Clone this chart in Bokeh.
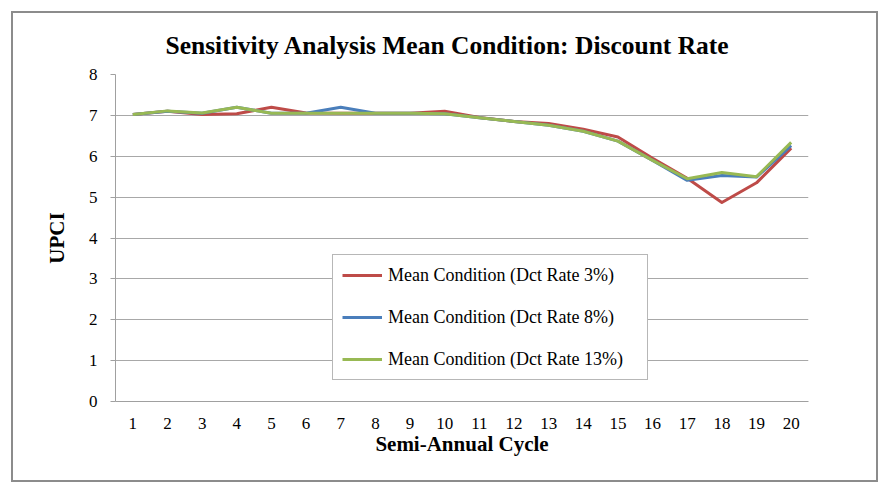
from bokeh.plotting import figure
from bokeh.models import Legend, LegendItem, FixedTicker, Range1d, ColumnDataSource
from bokeh.embed import file_html
from bokeh.resources import INLINE

cycles = list(range(1, 21))
tick_labels = [str(c) for c in cycles]
y_ticks = list(range(0, 9))

rate3 = [7.02, 7.10, 7.02, 7.04, 7.20, 7.06, 7.05, 7.05, 7.05, 7.10,
         6.95, 6.85, 6.80, 6.66, 6.47, 5.95, 5.46, 4.87, 5.35, 6.20]
rate8 = [7.02, 7.10, 7.05, 7.20, 7.05, 7.05, 7.20, 7.05, 7.05, 7.04,
         6.94, 6.85, 6.76, 6.61, 6.37, 5.90, 5.41, 5.53, 5.49, 6.26]
rate13 = [7.02, 7.11, 7.06, 7.20, 7.05, 7.05, 7.05, 7.05, 7.05, 7.04,
          6.94, 6.85, 6.76, 6.61, 6.37, 5.90, 5.45, 5.60, 5.50, 6.34]

series_names = ["Mean Condition (Dct Rate 3%)",
                "Mean Condition (Dct Rate 8%)",
                "Mean Condition (Dct Rate 13%)"]
series_colors = ["#be4b48", "#4a7ebb", "#98b954"]
chart_title = "Sensitivity Analysis Mean Condition: Discount Rate"

FONT = "Liberation Serif"

p = figure(width=867, height=471,
           x_range=Range1d(0.5, 20.5), y_range=Range1d(0, 8),
           output_backend="svg", toolbar_location=None,
           min_border_left=102, min_border_right=72,
           min_border_top=61, min_border_bottom=83,
           title=chart_title)
p.styles = {"border": "2px solid #8c8c8c", "margin-left": "11px", "margin-top": "11px"}

p.title.text_font = FONT
p.title.text_font_size = "25.5px"
p.title.text_font_style = "bold"
p.title.text_color = "black"
p.title.align = "left"
p.title.offset = 50
p.title.standoff = 29

p.outline_line_color = None
p.background_fill_color = "white"
p.border_fill_color = "white"
p.xgrid.visible = False
p.ygrid.grid_line_color = "#a8a8a8"
p.ygrid.grid_line_width = 1
p.ygrid.ticker = FixedTicker(ticks=y_ticks)

ya = p.yaxis[0]
ya.ticker = FixedTicker(ticks=y_ticks)
ya.axis_line_color = "#a0a0a0"
ya.major_tick_line_color = "#a0a0a0"
ya.major_tick_out = 5
ya.major_tick_in = 0
ya.minor_tick_line_color = None
ya.major_label_standoff = 13
ya.major_label_text_font = FONT
ya.major_label_text_font_size = "17px"
ya.major_label_text_color = "black"
ya.axis_label = "UPCI"
ya.axis_label_text_font = FONT
ya.axis_label_text_font_size = "21px"
ya.axis_label_text_font_style = "bold"
ya.axis_label_text_color = "black"
ya.axis_label_standoff = 17

xa = p.xaxis[0]
xa.ticker = FixedTicker(ticks=cycles)
xa.major_label_overrides = {c: t for c, t in zip(cycles, tick_labels)}
xa.axis_line_color = "#a0a0a0"
xa.major_tick_line_color = None
xa.major_tick_out = 0
xa.major_tick_in = 0
xa.minor_tick_line_color = None
xa.major_label_standoff = 16
xa.major_label_text_font = FONT
xa.major_label_text_font_size = "17px"
xa.major_label_text_color = "black"
xa.axis_label = "Semi-Annual Cycle"
xa.axis_label_text_font = FONT
xa.axis_label_text_font_size = "21px"
xa.axis_label_text_font_style = "bold"
xa.axis_label_text_color = "black"
xa.axis_label_standoff = 0

items = []
for name, vals, col in zip(series_names, [rate3, rate8, rate13], series_colors):
    src = ColumnDataSource(dict(x=cycles, y=vals))
    r = p.line("x", "y", source=src, line_color=col, line_width=3, line_join="round")
    items.append(LegendItem(label=name, renderers=[r]))

legend = Legend(items=items, location=(217, 21))
legend.margin = 0
legend.padding = 9
legend.spacing = 20
legend.glyph_width = 40
legend.glyph_height = 22
legend.label_height = 22
legend.label_width = 250
legend.label_standoff = 6
legend.label_text_font = FONT
legend.label_text_font_size = "18px"
legend.label_text_color = "black"
legend.border_line_color = "#707070"
legend.border_line_width = 1
legend.background_fill_color = "white"
legend.background_fill_alpha = 1.0
p.add_layout(legend)

open("out.html", "w").write(file_html(p, INLINE))
